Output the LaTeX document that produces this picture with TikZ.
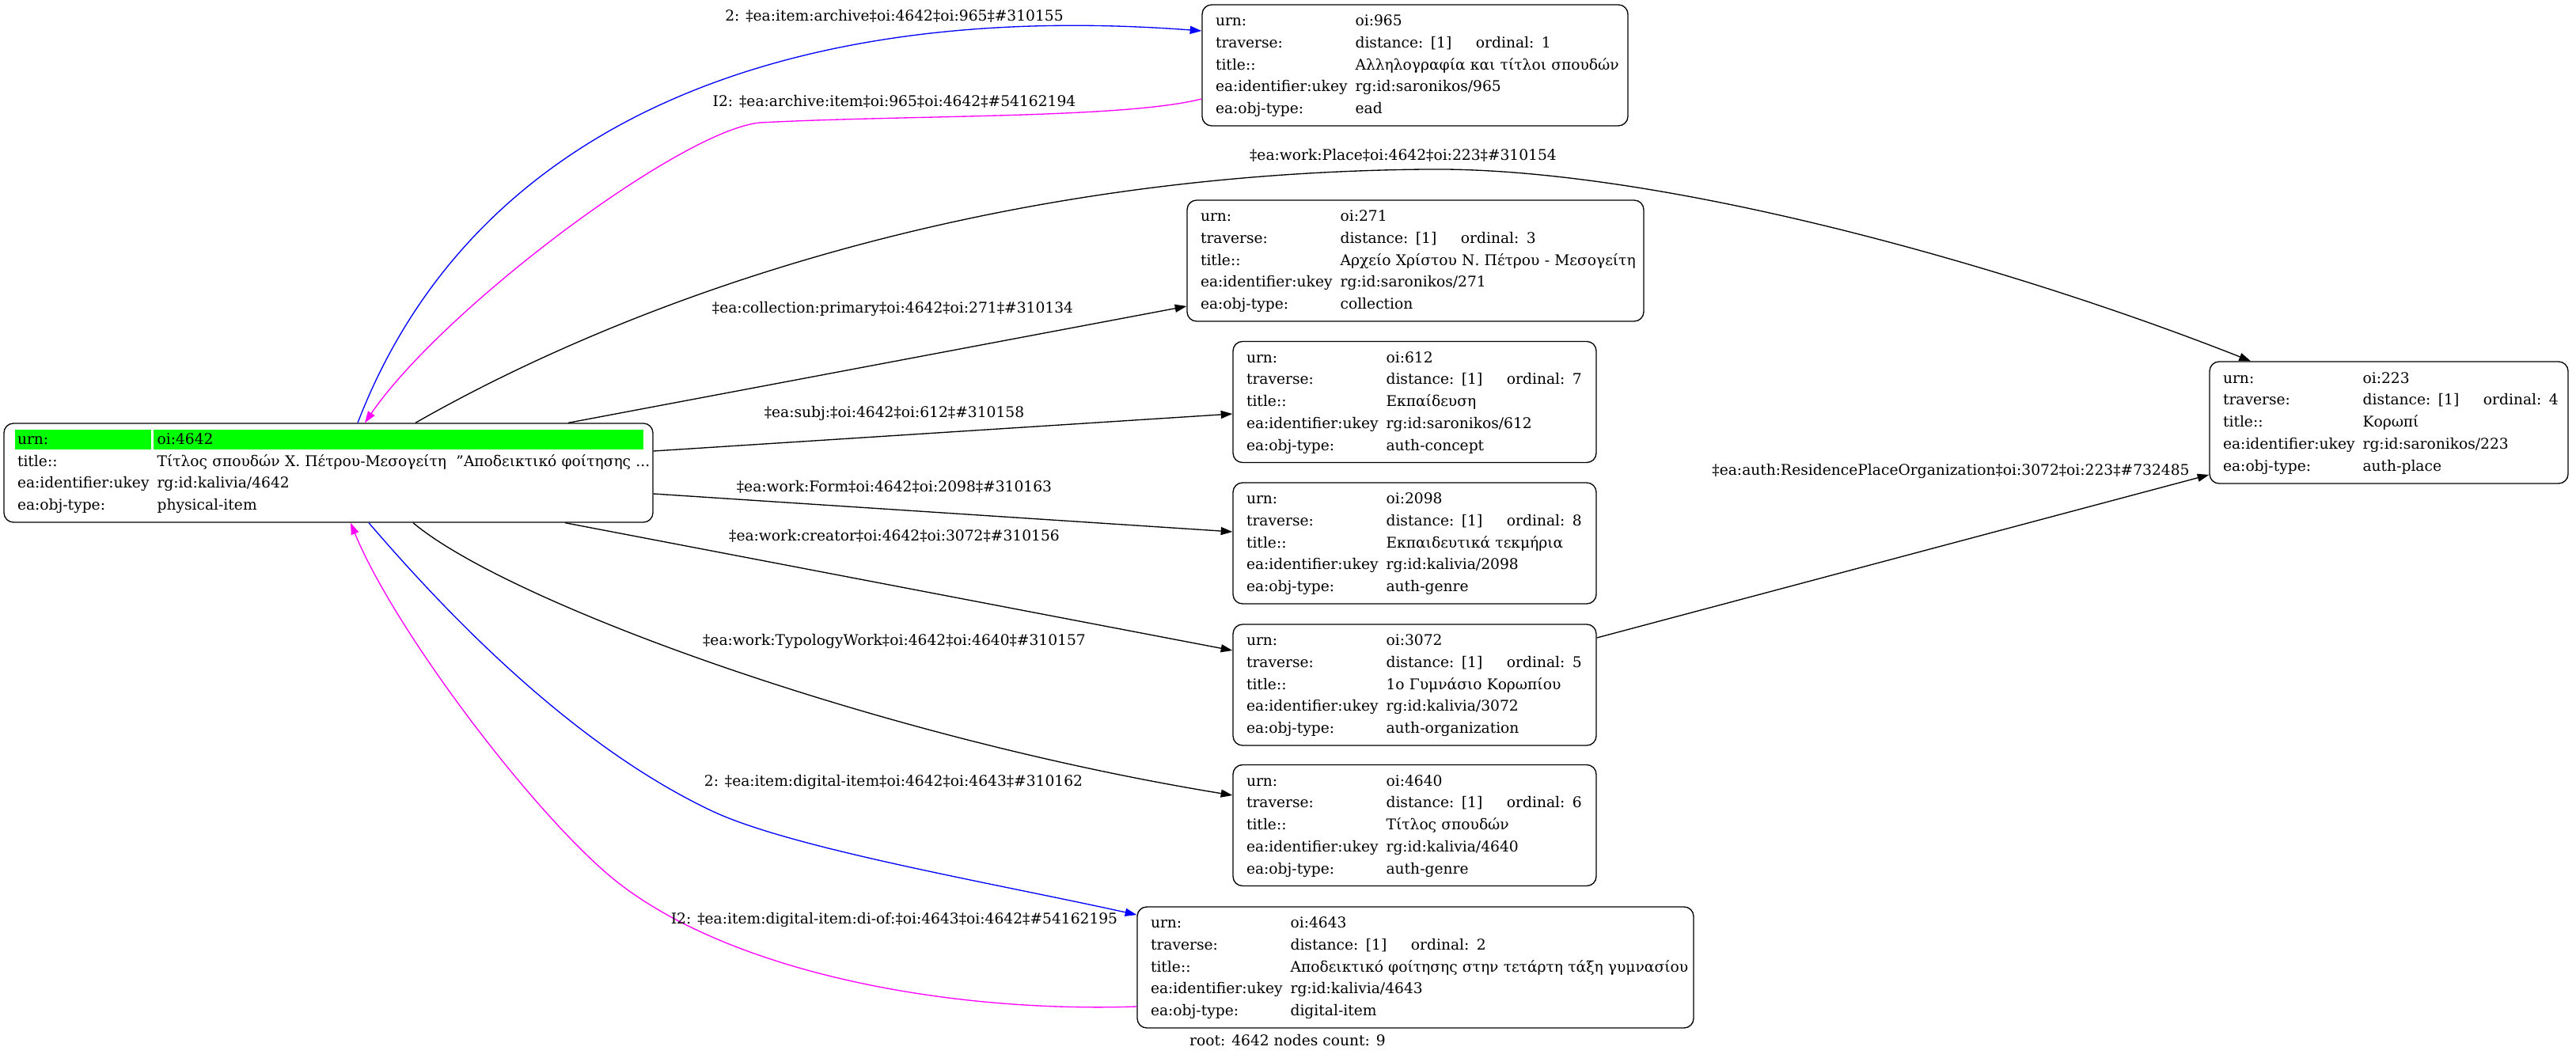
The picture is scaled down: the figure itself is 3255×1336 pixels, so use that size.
\documentclass[tikz,border=0pt]{standalone}
\usepackage{fontspec}
\setmainfont{DejaVu Serif}
\usetikzlibrary{arrows.meta,calc}
\definecolor{nodegreen}{RGB}{0,255,0}
\definecolor{edgeblue}{RGB}{0,0,255}
\definecolor{edgemagenta}{RGB}{255,0,255}
\newcommand{\recbox}[5]{\begin{tabular}{@{}l@{\hspace{7.5pt}}l@{}}urn: & #1\\ traverse: & distance: [1]\hspace{23pt}ordinal: #2\\ title:: & #3\\ ea:identifier:ukey & #4\\ ea:obj-type: & #5\end{tabular}}
\begin{document}
\begin{tikzpicture}[x=0.75pt,y=-0.75pt,
  every node/.style={font=\fontsize{14}{20.8}\selectfont},
  rec/.style={draw, line width=1pt, rounded corners=9pt, inner xsep=12.75pt, inner ysep=0pt, align=left, minimum height=114.75pt},
  lbl/.style={inner sep=0pt},
  conn/.style={line width=1pt, -{Triangle[length=11pt,width=7.5pt]}}]
\fill[white] (0,0) rectangle (3255,1336);
\useasboundingbox (0,0) rectangle (3255,1336);
% green header row of root
\fill[nodegreen] (19,543) rectangle (191,568);
\fill[nodegreen] (194,543) rectangle (813,568);
% nodes
\node[rec, minimum width=615pt, text width=589.5pt, minimum height=93.75pt] (root) at (415,597.5)
 {\begin{tabular}{@{}l@{\hspace{7.5pt}}l@{}}urn: & oi:4642\\ title:: & Τίτλος σπουδών Χ. Πέτρου-Μεσογείτη\ \ "Αποδεικτικό φοίτησης ...\\ ea:identifier:ukey & rg:id:kalivia/4642\\ ea:obj-type: & physical-item\end{tabular}};
\node[rec, minimum width=403.5pt, text width=378pt] (n965) at (1788,82.5)
 {\recbox{oi:965}{1}{Αλληλογραφία και τίτλοι σπουδών}{rg:id:saronikos/965}{ead}};
\node[rec, minimum width=432.75pt, text width=407.25pt] (n271) at (1788.5,329.5)
 {\recbox{oi:271}{3}{Αρχείο Χρίστου Ν. Πέτρου - Μεσογείτη}{rg:id:saronikos/271}{collection}};
\node[rec, minimum width=344.25pt, text width=318.75pt] (n612) at (1787.5,508)
 {\recbox{oi:612}{7}{Εκπαίδευση}{rg:id:saronikos/612}{auth-concept}};
\node[rec, minimum width=344.25pt, text width=318.75pt] (n2098) at (1787.5,686.5)
 {\recbox{oi:2098}{8}{Εκπαιδευτικά τεκμήρια}{rg:id:kalivia/2098}{auth-genre}};
\node[rec, minimum width=344.25pt, text width=318.75pt] (n3072) at (1787.5,865.5)
 {\recbox{oi:3072}{5}{1ο Γυμνάσιο Κορωπίου}{rg:id:kalivia/3072}{auth-organization}};
\node[rec, minimum width=344.25pt, text width=318.75pt] (n4640) at (1787.5,1043)
 {\recbox{oi:4640}{6}{Τίτλος σπουδών}{rg:id:kalivia/4640}{auth-genre}};
\node[rec, minimum width=527.25pt, text width=501.75pt] (n4643) at (1788.5,1222.5)
 {\recbox{oi:4643}{2}{Αποδεικτικό φοίτησης στην τετάρτη τάξη γυμνασίου}{rg:id:kalivia/4643}{digital-item}};
\node[rec, minimum width=339.75pt, text width=314.25pt, minimum height=115.5pt] (n223) at (3018.5,534)
 {\recbox{oi:223}{4}{Κορωπί}{rg:id:saronikos/223}{auth-place}};
% edges
\draw[conn,edgeblue] ($(root.north)+(37,0)$) .. controls (600,150) and (1000,0) .. ($(n965.west)+(0,-43.5)$);
\draw[conn,edgemagenta] ($(n965.west)+(0,42.5)$) .. controls (1420,150) and (1150,145) .. (960,155) .. controls (860,165) and (560,390) .. ($(root.north)+(46,0)$);
\draw[conn] ($(root.north)+(110,0)$) .. controls (760,400) and (1200,220) .. (1800,214) .. controls (2100,210) and (2550,340) .. ($(n223.north)+(-174.5,0)$);
\draw[conn] ($(root.north)+(303,0)$) -- ($(n271.west)+(0,57.5)$);
\draw[conn] ($(root.east)+(0,-27.5)$) -- ($(n612.west)+(0,15)$);
\draw[conn] ($(root.east)+(0,26.5)$) -- ($(n2098.west)+(0,-14.5)$);
\draw[conn] ($(root.south)+(299,0)$) -- ($(n3072.west)+(0,-43.5)$);
\draw[conn] ($(root.south)+(107,0)$) .. controls (640,760) and (1100,930) .. ($(n4640.west)+(0,-38)$);
\draw[conn,edgeblue] ($(root.south)+(51,0)$) .. controls (560,770) and (720,940) .. (900,1025) .. controls (1000,1072) and (1250,1115) .. ($(n4643.west)+(0,-66.5)$);
\draw[conn,edgemagenta] ($(n4643.west)+(0,49.5)$) .. controls (1200,1280) and (930,1230) .. (783,1117) .. controls (683,1040) and (500,800) .. ($(root.south)+(28,0)$);
\draw[conn] ($(n3072.east)+(0,-59.5)$) -- ($(n223.west)+(0,66)$);
% labels
\node[lbl] (l1) at (1130,20) {2: ‡ea:item:archive‡oi:4642‡oi:965‡\#310155};
\node[lbl] (l2) at (1130,128) {I2: ‡ea:archive:item‡oi:965‡oi:4642‡\#54162194};
\node[lbl] (l3) at (1773,196) {‡ea:work:Place‡oi:4642‡oi:223‡\#310154};
\node[lbl] (l4) at (1128,390) {‡ea:collection:primary‡oi:4642‡oi:271‡\#310134};
\node[lbl] (l5) at (1130,522) {‡ea:subj:‡oi:4642‡oi:612‡\#310158};
\node[lbl] (l6) at (1130,615) {‡ea:work:Form‡oi:4642‡oi:2098‡\#310163};
\node[lbl] (l7) at (1130,677) {‡ea:work:creator‡oi:4642‡oi:3072‡\#310156};
\node[lbl] (l8) at (1130,810) {‡ea:work:TypologyWork‡oi:4642‡oi:4640‡\#310157};
\node[lbl] (l9) at (1129,988) {2: ‡ea:item:digital-item‡oi:4642‡oi:4643‡\#310162};
\node[lbl] (l10) at (1130,1162) {I2: ‡ea:item:digital-item:di-of:‡oi:4643‡oi:4642‡\#54162195};
\node[lbl] (l11) at (2465,595) {‡ea:auth:ResidencePlaceOrganization‡oi:3072‡oi:223‡\#732485};
\node[lbl] (foot) at (1627,1315) {root: 4642 nodes count: 9};
\end{tikzpicture}
\end{document}
